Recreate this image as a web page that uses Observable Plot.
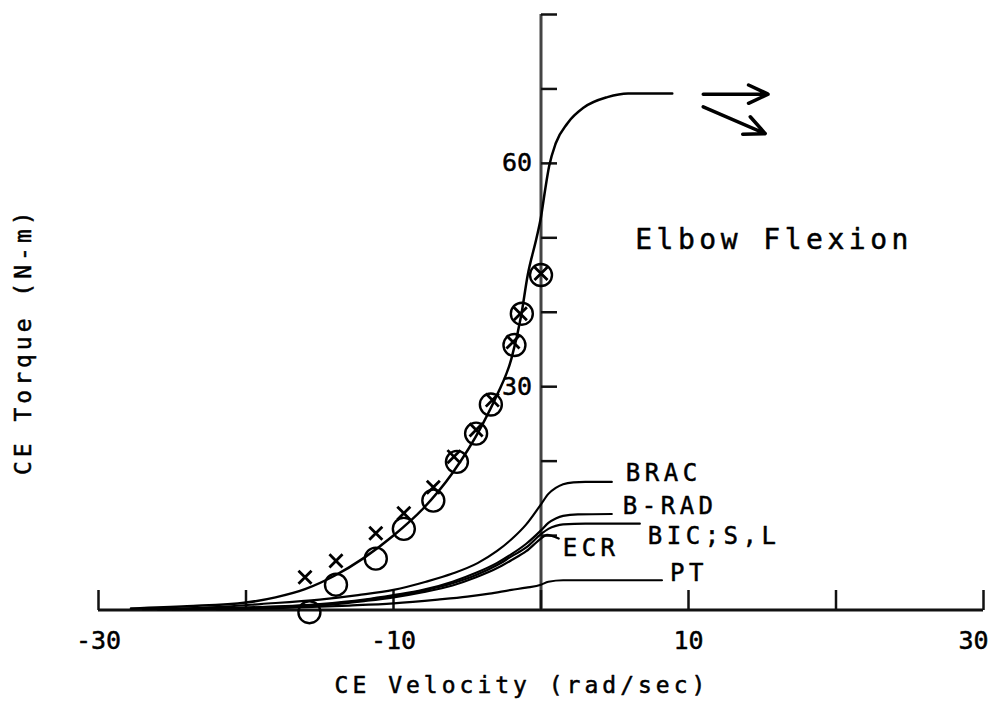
<!DOCTYPE html>
<html>
<head>
<meta charset="utf-8">
<script src="https://cdn.jsdelivr.net/npm/d3@7"></script>
<script src="https://cdn.jsdelivr.net/npm/@observablehq/plot@0.6"></script>
<style>
  html, body { margin: 0; padding: 0; background: #fff; }
  #chart svg { display: block; }
  /* plotter-style lettering: spacing per text size */
  #chart g[font-size="25"] text { letter-spacing: 0px; }
  #chart g[font-size="24"] text { letter-spacing: 4.5px; }
  #chart g[font-size="23"] text { letter-spacing: 4px; }
  #chart g[font-size="28"] text { letter-spacing: 4.5px; }
</style>
</head>
<body>
<div id="chart"></div>
<script>
// Elbow flexion: contractile-element torque against contractile-element velocity

// axis ticks
const xTicks = [-30, -20, -10, 0, 10, 20, 30];
const xTickLabels = [-30, -10, 10, 30];
const yTicks = [10, 20, 30, 40, 50, 60, 70, 80];
const yTickLabels = [30, 60];

// total model torque curve
const totalVel    = [-27.8, -24, -20, -18, -16, -14, -12, -10, -8, -6, -4, -3, -2, -1.35, -0.9, -0.3, 0, 0.3, 0.55, 1.0, 1.8, 2.9, 4.5, 5.9, 8.9];
const totalTorque = [0.2, 0.5, 1.0, 1.7, 2.8, 4.6, 7.0, 10.0, 13.6, 18.4, 24.8, 28.8, 33.8, 39.5, 45.0, 50.0, 52.8, 56.7, 59.6, 62.7, 65.4, 67.5, 68.9, 69.4, 69.4];

// measured points, two subjects
const circleVel    = [-15.7, -13.9, -11.2, -9.3, -7.3, -5.7, -4.4, -3.4, -1.8, -1.3, 0.0];
const circleTorque = [-0.3, 3.4, 6.9, 10.9, 14.7, 19.9, 23.7, 27.6, 35.6, 39.8, 45.0];
const crossVel     = [-16.0, -13.9, -11.2, -9.3, -7.3, -5.9, -4.4, -3.3, -1.9, -1.4, 0.0];
const crossTorque  = [4.4, 6.6, 10.3, 13.0, 16.5, 20.6, 24.2, 28.2, 36.0, 39.8, 45.2];

// individual muscle contributions
const muscleNames = ["BRAC", "B-RAD", "BIC;S,L", "ECR", "PT"];
const bracVel    = [-27, -22, -19, -15, -12.4, -10, -7.8, -6, -4.3, -3, -2, -1, 0, 0.5, 1, 1.5, 2.2, 3, 4.8];
const bracTorque = [0.1, 0.4, 0.8, 1.4, 2.0, 2.7, 3.8, 4.9, 6.3, 7.9, 9.5, 11.5, 14.2, 15.6, 16.4, 16.9, 17.15, 17.2, 17.2];
const bradVel    = [-25, -19, -15, -12, -10, -8, -6, -4.4, -3, -2, -1, 0, 0.5, 1, 1.5, 2.5, 4.8];
const bradTorque = [0.1, 0.4, 0.8, 1.4, 2.0, 2.7, 3.8, 5.0, 6.3, 7.5, 8.9, 10.7, 11.7, 12.3, 12.65, 12.85, 12.9];
const bicVel     = [-26, -20, -15, -12, -10, -8, -6, -4.4, -3, -2, -1, 0, 0.5, 1, 1.5, 3, 6.7];
const bicTorque  = [0.1, 0.3, 0.7, 1.3, 1.9, 2.6, 3.6, 4.7, 6.0, 7.2, 8.4, 10.2, 10.9, 11.3, 11.5, 11.6, 11.6];
const ecrVel     = [-26, -20, -15, -12, -10, -8, -6, -4.4, -3, -2, -1, 0, 0.4, 1.2];
const ecrTorque  = [0.1, 0.25, 0.6, 1.2, 1.7, 2.4, 3.3, 4.4, 5.6, 6.7, 7.9, 9.6, 10.1, 9.6];
const ptVel      = [-22, -17, -13, -10, -7, -5, -3.5, -2, -1, 0, 0.5, 1.5, 3, 8.2];
const ptTorque   = [0.1, 0.3, 0.6, 0.9, 1.4, 1.8, 2.2, 2.7, 3.0, 3.4, 3.8, 4.0, 4.0, 4.0];

// text
const xTitle = "CE Velocity (rad/sec)";
const yTitle = "CE Torque (N-m)";
const panelTitle = "Elbow Flexion";

// the two direction arrows to the right of the plateau
const arrowFrom = [[11.0, 69.3], [11.0, 67.6]];
const arrowTo   = [[15.4, 69.3], [15.2, 64.0]];

// ---- build tables ----
const zip = (xs, ys) => xs.map((x, i) => ({x, y: ys[i]}));
const totalCurve = zip(totalVel, totalTorque);
const circles = zip(circleVel, circleTorque);
const crosses = zip(crossVel, crossTorque);
const muscleSeries = [
  zip(bracVel, bracTorque), zip(bradVel, bradTorque), zip(bicVel, bicTorque),
  zip(ecrVel, ecrTorque), zip(ptVel, ptTorque)
];
const muscleRows = muscleSeries.flatMap((s, k) => s.map(d => ({...d, name: muscleNames[k]})));
const arrows = arrowFrom.map((a, i) => ({x1: a[0], y1: a[1], x2: arrowTo[i][0], y2: arrowTo[i][1]}));

// each muscle name sits next to the right end of its curve
const labelOffset = {"BRAC": [14, -9], "B-RAD": [11, -7.5], "BIC;S,L": [8, 13], "ECR": [4, 10], "PT": [8, -7]};
const muscleLabels = muscleSeries.map((s, k) => {
  const end = s[s.length - 1];
  const [dx, dy] = labelOffset[muscleNames[k]];
  return {x: end.x, y: end.y, name: muscleNames[k], dx, dy};
});

// tick glyphs: x ticks point up from the axis, y ticks point right
const tickUp = {draw(ctx) { ctx.moveTo(0, 0); ctx.lineTo(0, -20); }};
const tickRight = {draw(ctx) { ctx.moveTo(0, 0); ctx.lineTo(16, 0); }};

const font = "DejaVu Sans Mono";
const ink = {fill: "black", stroke: "black", strokeWidth: 0.5, fontFamily: font};

const labelMarks = muscleLabels.map(l => Plot.text([l], {
  x: "x", y: "y", text: "name", textAnchor: "start", dx: l.dx, dy: l.dy, fontSize: 24, ...ink
}));

const fmtTick = d => (d < 0 ? "-" + (-d) : String(d));
const lastX = d3.max(xTickLabels);

const chart = Plot.plot({
  width: 997,
  height: 701,
  marginLeft: 98,
  marginRight: 14,
  marginTop: 14,
  marginBottom: 91.5,
  x: {domain: d3.extent(xTicks), axis: null},
  y: {domain: [0, d3.max(yTicks)], axis: null},
  style: {fontFamily: font, background: "white", color: "black"},
  marks: [
    // axis lines
    Plot.ruleY([0], {x1: d3.min(xTicks), x2: d3.max(xTicks), stroke: "#111", strokeWidth: 3}),
    Plot.ruleX([0], {y1: 0, y2: d3.max(yTicks), stroke: "#444", strokeWidth: 3}),
    Plot.dot(xTicks, {x: d => d, y: 0, symbol: tickUp, fill: "none", stroke: "#111", strokeWidth: 2.5}),
    Plot.dot(yTicks, {x: 0, y: d => d, symbol: tickRight, fill: "none", stroke: "#111", strokeWidth: 2.5}),
    Plot.text(xTickLabels.filter(d => d !== lastX), {x: d => d, y: 0, dy: 31, text: fmtTick, fontSize: 25, ...ink}),
    Plot.text([lastX], {x: d => d, y: 0, dy: 31, dx: 5, textAnchor: "end", text: fmtTick, fontSize: 25, ...ink}),
    Plot.text(yTickLabels, {x: 0, y: d => d, dx: -9, textAnchor: "end", text: fmtTick, fontSize: 25, ...ink}),

    // muscle curves
    Plot.line(muscleRows, {x: "x", y: "y", z: "name", curve: "monotone-x", stroke: "black", strokeWidth: 2.2}),
    ...labelMarks,

    // total torque curve and measurements
    Plot.line(totalCurve, {x: "x", y: "y", curve: "monotone-x", stroke: "black", strokeWidth: 2.5}),
    Plot.dot(crosses, {x: "x", y: "y", symbol: "times", r: 6, stroke: "black", strokeWidth: 2.8}),
    Plot.dot(circles, {x: "x", y: "y", symbol: "circle", r: 11, fill: "none", stroke: "black", strokeWidth: 2.4}),

    // arrows
    Plot.arrow(arrows, {x1: "x1", y1: "y1", x2: "x2", y2: "y2", stroke: "black", strokeWidth: 3.5,
      headLength: 22, headAngle: 50}),

    // titles
    Plot.text([panelTitle], {x: 15.8, y: 49.7, text: d => d, fontSize: 28, ...ink}),
    Plot.text([xTitle], {frameAnchor: "bottom", textAnchor: "middle", lineAnchor: "middle",
      dx: -19, dy: 76, text: d => d, fontSize: 23, ...ink}),
    Plot.text([yTitle], {frameAnchor: "left", textAnchor: "middle", lineAnchor: "middle",
      dx: -75, dy: 29, rotate: -90, text: d => d, fontSize: 23, ...ink})
  ]
});

document.getElementById("chart").appendChild(chart);
</script>
</body>
</html>
